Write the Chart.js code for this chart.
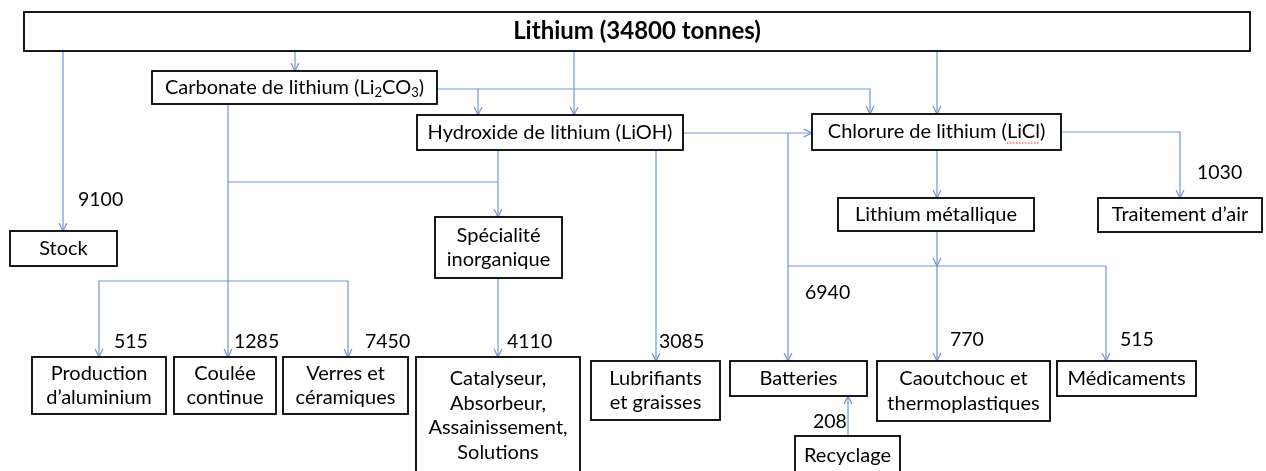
<!DOCTYPE html>
<html>
<head>
<meta charset="utf-8">
<script src="https://cdn.jsdelivr.net/npm/chart.js@4"></script>
<style>
  html, body { margin: 0; padding: 0; background: #fff; }
  #wrap { width: 1266px; height: 471px; }
</style>
</head>
<body>
<div id="wrap"><canvas id="flow" width="1266" height="471"></canvas></div>
<script>
// node labels (_n marks a subscript)
const nodeLabels = [
  'Lithium (34800 tonnes)',
  'Carbonate de lithium (Li_2CO_3)',
  'Hydroxide de lithium (LiOH)',
  'Chlorure de lithium (LiCl)',
  'Stock',
  'Spécialité\ninorganique',
  'Lithium métallique',
  'Traitement d’air',
  'Production\nd’aluminium',
  'Coulée\ncontinue',
  'Verres et\ncéramiques',
  'Catalyseur,\nAbsorbeur,\nAssainissement,\nSolutions',
  'Lubrifiants\net graisses',
  'Batteries',
  'Caoutchouc et\nthermoplastiques',
  'Médicaments',
  'Recyclage'
];

// tonnes of lithium for each flow
const flowValues = [9100, 515, 1285, 7450, 4110, 3085, 6940, 770, 515, 1030, 208];

// layout: box corners [x0, y0, x1, y1] in chart units, same order as nodeLabels
const nodeBoxes = [
  [24, 12, 1250, 51],
  [152, 71, 437, 104],
  [417, 115, 683, 150],
  [812, 114, 1061, 150],
  [10, 231, 117, 266],
  [435, 217, 562, 278],
  [838, 198, 1034, 231],
  [1098, 198, 1262, 232],
  [32, 357, 166, 414],
  [174, 357, 276, 414],
  [283, 357, 408, 414],
  [416, 357, 580, 476],
  [591, 361, 720, 420],
  [730, 361, 867, 396],
  [877, 361, 1050, 421],
  [1057, 361, 1196, 396],
  [795, 436, 900, 476]
];

// layout: where each flow value is written [x, y], same order as flowValues
const flowLabelPos = [
  [78, 200], [114, 342], [234, 342], [365, 342], [507, 342], [659, 342],
  [805, 293], [950, 340], [1120, 340], [1197, 173], [813, 422]
];

// connectors: polylines, last flag = arrowhead at the end
const connectors = [
  [[[63, 51], [63, 231]], true],
  [[[295, 51], [295, 71]], true],
  [[[574, 51], [574, 115]], true],
  [[[937, 51], [937, 114]], true],
  [[[437, 89], [870, 89], [870, 114]], true],
  [[[478, 89], [478, 115]], true],
  [[[683, 133], [812, 133]], true],
  [[[788, 133], [788, 361]], true],
  [[[656, 150], [656, 361]], true],
  [[[498, 150], [498, 217]], true],
  [[[228, 182], [498, 182]], false],
  [[[228, 104], [228, 357]], true],
  [[[99, 281], [348, 281]], false],
  [[[99, 281], [99, 357]], true],
  [[[348, 281], [348, 357]], true],
  [[[498, 278], [498, 357]], true],
  [[[937, 150], [937, 198]], true],
  [[[1061, 132], [1180, 132], [1180, 198]], true],
  [[[937, 231], [937, 266]], true],
  [[[937, 266], [937, 361]], true],
  [[[788, 266], [1106, 266]], false],
  [[[1106, 266], [1106, 361]], true],
  [[[848, 436], [848, 396]], true]
];

const lineColor = '#7196d8';
const fontFamily = 'Lato, "Open Sans", sans-serif';
const textSize = 20;
const titleSize = 24;

const datasets = connectors.map(([pts, arrow]) => ({
  data: pts.map(([x, y]) => ({ x, y })),
  showLine: true,
  borderColor: lineColor,
  borderWidth: 1.2,
  pointRadius: 0,
  tension: 0,
  arrow: arrow
}));

// draw a label that may contain _n subscripts
function drawRich(ctx, text, cx, cy, size, bold) {
  const parts = [];
  const re = /_(\d)/g;
  let last = 0, m;
  while ((m = re.exec(text))) {
    parts.push([text.slice(last, m.index), false]);
    parts.push([m[1], true]);
    last = re.lastIndex;
  }
  parts.push([text.slice(last), false]);
  const w = (s, sub) => {
    ctx.font = (bold ? 'bold ' : '') + (sub ? size * 0.65 : size) + 'px ' + fontFamily;
    return ctx.measureText(s).width;
  };
  let total = parts.reduce((a, [s, sub]) => a + w(s, sub), 0);
  let x = cx - total / 2;
  ctx.textAlign = 'left';
  ctx.textBaseline = 'middle';
  parts.forEach(([s, sub]) => {
    const ww = w(s, sub);
    ctx.fillText(s, x, sub ? cy + size * 0.25 : cy);
    x += ww;
  });
  return [cx - total / 2, total];
}

const diagramPlugin = {
  id: 'diagram',
  afterDatasetsDraw(chart) {
    const { ctx, scales } = chart;
    const sx = v => scales.x.getPixelForValue(v);
    const sy = v => scales.y.getPixelForValue(v);
    ctx.save();

    // arrowheads
    chart.data.datasets.forEach(ds => {
      if (!ds.arrow) return;
      const n = ds.data.length;
      const a = ds.data[n - 2], b = ds.data[n - 1];
      const x1 = sx(a.x), y1 = sy(a.y), x2 = sx(b.x), y2 = sy(b.y);
      const ang = Math.atan2(y2 - y1, x2 - x1);
      const len = 9, spread = 0.45;
      ctx.strokeStyle = lineColor;
      ctx.lineWidth = 1.2;
      ctx.beginPath();
      ctx.moveTo(x2 - len * Math.cos(ang - spread), y2 - len * Math.sin(ang - spread));
      ctx.lineTo(x2, y2);
      ctx.lineTo(x2 - len * Math.cos(ang + spread), y2 - len * Math.sin(ang + spread));
      ctx.stroke();
    });

    // boxes with labels
    nodeLabels.forEach((label, i) => {
      const [bx0, by0, bx1, by1] = nodeBoxes[i];
      const x0 = sx(bx0), y0 = sy(by0), x1 = sx(bx1), y1 = sy(by1);
      ctx.fillStyle = '#fff';
      ctx.fillRect(x0, y0, x1 - x0, y1 - y0);
      ctx.strokeStyle = '#000';
      ctx.lineWidth = 1.8;
      ctx.strokeRect(x0, y0, x1 - x0, y1 - y0);
      const bold = i === 0;
      const size = bold ? titleSize : textSize;
      const lines = label.split('\n');
      const lh = 24.5;
      let cy = (y0 + y1) / 2 - (lines.length - 1) * lh / 2;
      if (i === 11) cy = y0 + 22;
      ctx.fillStyle = '#000';
      lines.forEach((ln, k) => {
        const [tx] = drawRich(ctx, ln, (x0 + x1) / 2, cy + k * lh, size, bold);
        if (i === 3) {
          // red spell-check squiggle under "LiCl"
          ctx.font = size + 'px ' + fontFamily;
          const pre = ctx.measureText('Chlorure de lithium (').width;
          const lw = ctx.measureText('LiCl').width;
          ctx.strokeStyle = '#e02020';
          ctx.lineWidth = 1;
          ctx.setLineDash([1.5, 1.5]);
          ctx.beginPath();
          ctx.moveTo(tx + pre, cy + 11);
          ctx.lineTo(tx + pre + lw, cy + 11);
          ctx.stroke();
          ctx.setLineDash([]);
        }
      });
    });

    // flow values
    ctx.fillStyle = '#000';
    ctx.font = '19.5px ' + fontFamily;
    ctx.textAlign = 'left';
    ctx.textBaseline = 'middle';
    flowValues.forEach((v, i) => {
      const [px, py] = flowLabelPos[i];
      ctx.fillText(String(v), sx(px), sy(py));
    });
    ctx.restore();
  }
};

new Chart(document.getElementById('flow'), {
  type: 'scatter',
  data: { datasets },
  options: {
    responsive: false,
    devicePixelRatio: 1,
    animation: false,
    layout: { padding: 0 },
    plugins: { legend: { display: false }, tooltip: { enabled: false } },
    scales: {
      x: { type: 'linear', min: 0, max: 1266, display: false },
      y: { type: 'linear', min: 0, max: 471, reverse: true, display: false }
    }
  },
  plugins: [diagramPlugin]
});
</script>
</body>
</html>
